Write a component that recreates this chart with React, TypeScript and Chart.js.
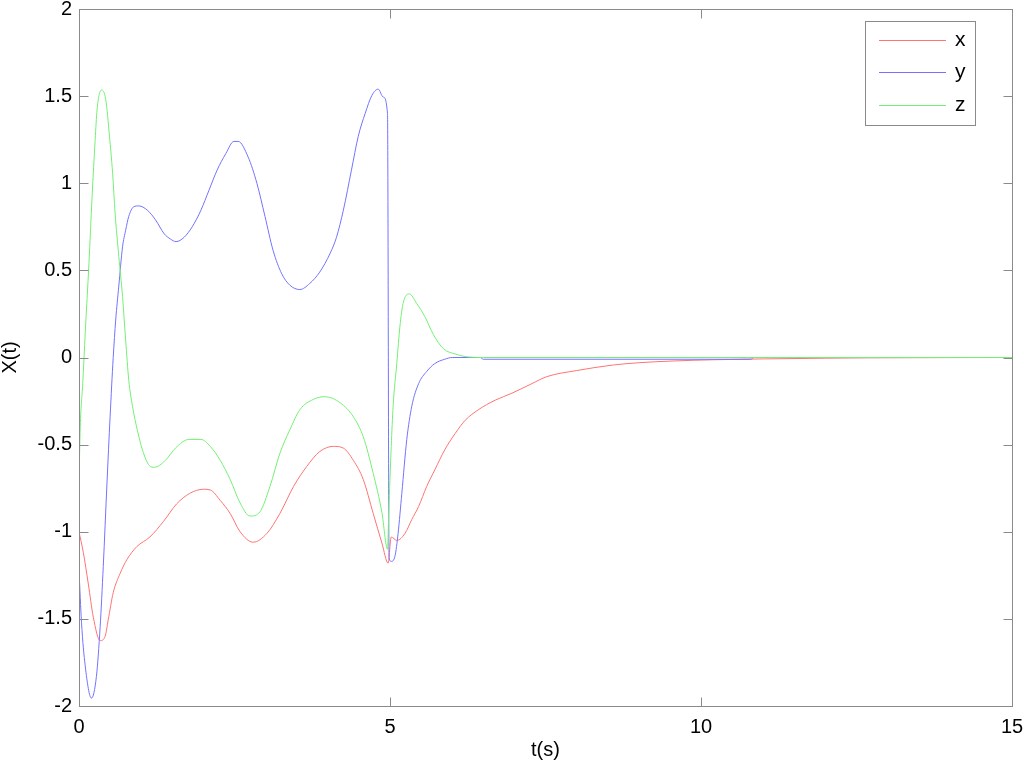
import React, { useEffect, useRef } from 'react';
import { Chart, registerables } from 'chart.js';

Chart.register(...registerables);

// ---- data ----
const xTime = [0, 0.07, 0.15, 0.23, 0.34, 0.42, 0.47, 0.55, 0.66, 0.77, 0.93, 1.14, 1.36, 1.57, 1.78, 2.0, 2.11, 2.27, 2.43, 2.59, 2.8, 3.02, 3.23, 3.45, 3.66, 3.87, 4.09, 4.25, 4.41, 4.57, 4.73, 4.87, 4.97, 5.02, 5.11, 5.24, 5.35, 5.46, 5.59, 5.72, 5.88, 6.05, 6.21, 6.42, 6.69, 6.96, 7.28, 7.52, 8.0, 8.59, 9.0, 9.55, 10.2, 11.0, 12.0, 12.7, 15];
const xVals = [-1.0, -1.12, -1.3, -1.49, -1.625, -1.6, -1.505, -1.35, -1.24, -1.16, -1.085, -1.03, -0.94, -0.84, -0.78, -0.756, -0.76, -0.82, -0.895, -1.0, -1.06, -1.01, -0.895, -0.74, -0.626, -0.54, -0.51, -0.52, -0.59, -0.7, -0.895, -1.065, -1.18, -1.03, -1.05, -1.01, -0.93, -0.855, -0.74, -0.645, -0.53, -0.435, -0.36, -0.3, -0.245, -0.205, -0.15, -0.11, -0.075, -0.043, -0.03, -0.02, -0.013, -0.008, -0.004, -0.002, 0];

const yTime = [0, 0.04, 0.1, 0.2, 0.28, 0.34, 0.39, 0.45, 0.5, 0.55, 0.59, 0.64, 0.7, 0.75, 0.8, 0.88, 0.96, 1.1, 1.23, 1.37, 1.47, 1.56, 1.69, 1.82, 1.96, 2.09, 2.22, 2.36, 2.49, 2.56, 2.72, 2.86, 2.99, 3.12, 3.26, 3.39, 3.55, 3.71, 3.87, 4.04, 4.14, 4.25, 4.38, 4.49, 4.6, 4.71, 4.81, 4.89, 4.96, 4.985, 5.02, 5.08, 5.13, 5.19, 5.27, 5.35, 5.46, 5.59, 5.72, 5.88, 6.0, 6.45, 6.5, 10.8, 10.85, 15];
const yVals = [-1.22, -1.52, -1.77, -1.955, -1.83, -1.545, -1.2, -0.72, -0.34, 0.0, 0.215, 0.41, 0.635, 0.73, 0.81, 0.865, 0.87, 0.845, 0.79, 0.71, 0.68, 0.665, 0.69, 0.75, 0.845, 0.96, 1.075, 1.17, 1.24, 1.24, 1.15, 1.0, 0.81, 0.615, 0.48, 0.415, 0.39, 0.425, 0.49, 0.6, 0.69, 0.845, 1.075, 1.27, 1.4, 1.505, 1.54, 1.495, 1.4, -1.15, -1.17, -1.14, -1.01, -0.78, -0.47, -0.28, -0.15, -0.08, -0.035, -0.01, 0.0, 0.0, -0.01, -0.01, 0.0, 0.0];

const zTime = [0, 0.02, 0.06, 0.1, 0.16, 0.21, 0.26, 0.29, 0.36, 0.43, 0.49, 0.54, 0.58, 0.64, 0.7, 0.75, 0.8, 0.86, 0.94, 1.02, 1.13, 1.21, 1.39, 1.55, 1.77, 1.96, 2.11, 2.27, 2.43, 2.59, 2.75, 2.91, 3.07, 3.23, 3.39, 3.55, 3.77, 3.95, 4.2, 4.41, 4.57, 4.73, 4.87, 4.96, 4.98, 5.02, 5.05, 5.11, 5.16, 5.21, 5.31, 5.43, 5.56, 5.7, 5.86, 6.05, 6.26, 6.5, 15];
const zVals = [-0.72, -0.4, -0.15, 0.14, 0.54, 0.92, 1.25, 1.42, 1.535, 1.48, 1.27, 1.06, 0.83, 0.58, 0.35, 0.1, -0.13, -0.28, -0.42, -0.53, -0.62, -0.63, -0.59, -0.52, -0.47, -0.47, -0.51, -0.59, -0.7, -0.835, -0.91, -0.885, -0.74, -0.55, -0.415, -0.3, -0.24, -0.225, -0.26, -0.34, -0.455, -0.665, -0.89, -1.1, -0.89, -0.51, -0.28, -0.03, 0.18, 0.31, 0.365, 0.31, 0.235, 0.13, 0.05, 0.02, 0.003, 0.0, 0.0];

const seriesLabels = ['x', 'y', 'z'];
const seriesColors = ['rgb(255,115,115)', 'rgb(115,115,255)', 'rgb(115,240,115)'];
const xAxisTitle = 't(s)';
const yAxisTitle = 'X(t)';
const xTickValues = [0, 5, 10, 15];
const yTickValues = [-2, -1.5, -1, -0.5, 0, 0.5, 1, 1.5, 2];

const FONT = '"Liberation Sans", Arial, sans-serif';
const AXIS_COLOR = '#8a8a8a';

const toPoints = (t: number[], v: number[]) => t.map((tt, i) => ({ x: tt, y: v[i] }));

const framePlugin = {
  id: 'matlabFrame',
  afterDatasetsDraw(chart: any) {
    const { ctx, chartArea, scales } = chart;
    const l = Math.round(chartArea.left) + 0.5;
    const r = Math.round(chartArea.right) + 0.5;
    const t = Math.round(chartArea.top) + 0.5;
    const b = Math.round(chartArea.bottom) + 0.5;
    ctx.save();
    ctx.strokeStyle = AXIS_COLOR;
    ctx.lineWidth = 1;
    ctx.strokeRect(l, t, r - l, b - t);
    const tl = 9;
    ctx.beginPath();
    xTickValues.forEach((v) => {
      const px = Math.round(scales.x.getPixelForValue(v)) + 0.5;
      ctx.moveTo(px, b); ctx.lineTo(px, b - tl);
      ctx.moveTo(px, t); ctx.lineTo(px, t + tl);
    });
    yTickValues.forEach((v) => {
      const py = Math.round(scales.y.getPixelForValue(v)) + 0.5;
      ctx.moveTo(l, py); ctx.lineTo(l + tl, py);
      ctx.moveTo(r, py); ctx.lineTo(r - tl, py);
    });
    ctx.stroke();

    // legend box (MATLAB style, inside the axes)
    const bx = 865.5, by = 21.5, bw = 110, bh = 104;
    ctx.fillStyle = '#fff';
    ctx.fillRect(bx, by, bw, bh);
    ctx.strokeRect(bx, by, bw, bh);
    const rows = [40, 72, 105];
    chart.data.datasets.forEach((ds: any, i: number) => {
      const y = rows[i] + 0.5;
      ctx.strokeStyle = ds.borderColor;
      ctx.beginPath();
      ctx.moveTo(879, y);
      ctx.lineTo(946, y);
      ctx.stroke();
      ctx.fillStyle = '#000';
      ctx.font = `21px ${FONT}`;
      ctx.textBaseline = 'middle';
      ctx.textAlign = 'left';
      ctx.fillText(ds.label, 955, rows[i]);
    });
    ctx.restore();
  },
};

export default function App() {
  const ref = useRef<HTMLCanvasElement | null>(null);
  useEffect(() => {
    if (!ref.current) return;
    const chart = new Chart(ref.current, {
      type: 'line',
      data: {
        datasets: [
          { label: seriesLabels[0], data: toPoints(xTime, xVals), borderColor: seriesColors[0], order: 2 },
          { label: seriesLabels[1], data: toPoints(yTime, yVals), borderColor: seriesColors[1], order: 1 },
          { label: seriesLabels[2], data: toPoints(zTime, zVals), borderColor: seriesColors[2], order: 0 },
        ].map((d) => ({ ...d, borderWidth: 1, pointRadius: 0, cubicInterpolationMode: 'monotone', fill: false })),
      },
      options: {
        responsive: false,
        animation: false,
        devicePixelRatio: 1,
        layout: { padding: { top: 9, right: 12, left: 0, bottom: 0 } },
        plugins: { legend: { display: false }, tooltip: { enabled: false } },
        scales: {
          x: {
            type: 'linear',
            min: 0,
            max: 15,
            grid: { display: false, drawTicks: false },
            border: { display: false },
            ticks: {
              stepSize: 5,
              padding: 9,
              color: '#000',
              font: { family: FONT, size: 20 },
              maxRotation: 0,
              callback: (v: any) => String(v),
            },
            title: { display: true, text: xAxisTitle, color: '#000', font: { family: FONT, size: 20 }, padding: { top: 0, bottom: 5 } },
            afterFit: (s: any) => { s.height = 61; s.paddingLeft = 0; s.paddingRight = 0; },
          },
          y: {
            type: 'linear',
            min: -2,
            max: 2,
            grid: { display: false, drawTicks: false },
            border: { display: false },
            ticks: {
              stepSize: 0.5,
              padding: 7,
              color: '#000',
              font: { family: FONT, size: 20 },
              callback: (v: any) => String(v),
            },
            title: { display: true, text: yAxisTitle, color: '#000', font: { family: FONT, size: 20, lineHeight: 1 }, padding: { top: 0, bottom: 0 } },
            afterFit: (s: any) => { s.width = 79; s.paddingTop = 0; s.paddingBottom = 0; },
          },
        },
      },
      plugins: [framePlugin],
    } as any);
    return () => chart.destroy();
  }, []);
  return (
    <div style={{ position: 'fixed', left: 0, top: 0, width: 1024, height: 767, background: '#fff' }}>
      <canvas ref={ref} width={1024} height={767} />
    </div>
  );
}
